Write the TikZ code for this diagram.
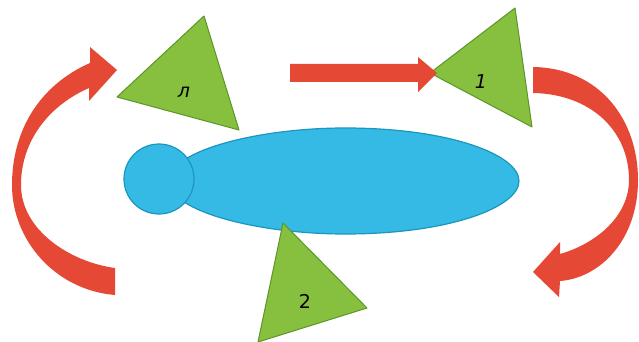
\documentclass[tikz,border=0pt]{standalone}
\usepackage{fontspec}
\newfontfamily\labfont{DejaVu Sans}
\definecolor{redarr}{RGB}{229,72,52}
\definecolor{greenfill}{RGB}{134,192,62}
\definecolor{greenline}{RGB}{92,150,40}
\definecolor{bluefill}{RGB}{52,186,228}
\definecolor{blueline}{RGB}{28,150,190}
\tikzset{
  tri/.style={fill=greenfill,draw=greenline,line width=1pt,line join=round},
  bodyshape/.style={fill=bluefill,draw=blueline,line width=1.2pt},
  redshape/.style={fill=redarr,draw=none},
  lab/.style={font=\labfont\fontsize{19}{19}\selectfont,text=black,inner sep=0pt}
}
\begin{document}
\begin{tikzpicture}[x=1pt,y=-1pt]
\useasboundingbox[fill=white] (0,0) rectangle (639,342);
% body (tapered egg) and head
\draw[bodyshape] (168,181) .. controls (170,150) and (260,128) .. (345,128)
  .. controls (450,128) and (519,155) .. (519,181)
  .. controls (519,207) and (450,234) .. (345,234)
  .. controls (260,234) and (170,212) .. (168,181) -- cycle;
\node[bodyshape,circle,minimum size=70,inner sep=0pt] (head) at (159,179) {};
% triangles
\draw[tri] (117,97) -- (204,16) -- (239,130) -- cycle;
\draw[tri] (430,73) -- (515,8) -- (532,127) -- cycle;
\draw[tri] (283,223) -- (367,308) -- (258,342) -- cycle;
\node[lab] (l) at (184,92) {\itshape л};
\node[lab] (one) at (481,82) {\itshape 1};
\node[lab] (two) at (305,301) {2};
% top straight arrow
\fill[redshape] (290,64) -- (418,64) -- (418,57) -- (437,73) -- (418,92) -- (418,82) -- (290,82) -- cycle;
% left curved arrow
\fill[redshape] (115,295) .. controls (55,290) and (12,240) .. (12,185)
  .. controls (12,130) and (40,85) .. (90,63)
  -- (90,47) -- (117,70) -- (89,101) -- (89,88)
  .. controls (50,105) and (21,140) .. (21,185)
  .. controls (21,230) and (70,262) .. (115,268) -- cycle;
% right curved arrow
\fill[redshape] (533,67) .. controls (600,68) and (638,120) .. (638,180)
  .. controls (638,240) and (600,278) .. (560,281)
  -- (559,297) -- (533,272) -- (560,242) -- (560,254)
  .. controls (598,243) and (629,215) .. (629,180)
  .. controls (629,130) and (590,94) .. (533,93) -- cycle;
\end{tikzpicture}
\end{document}
